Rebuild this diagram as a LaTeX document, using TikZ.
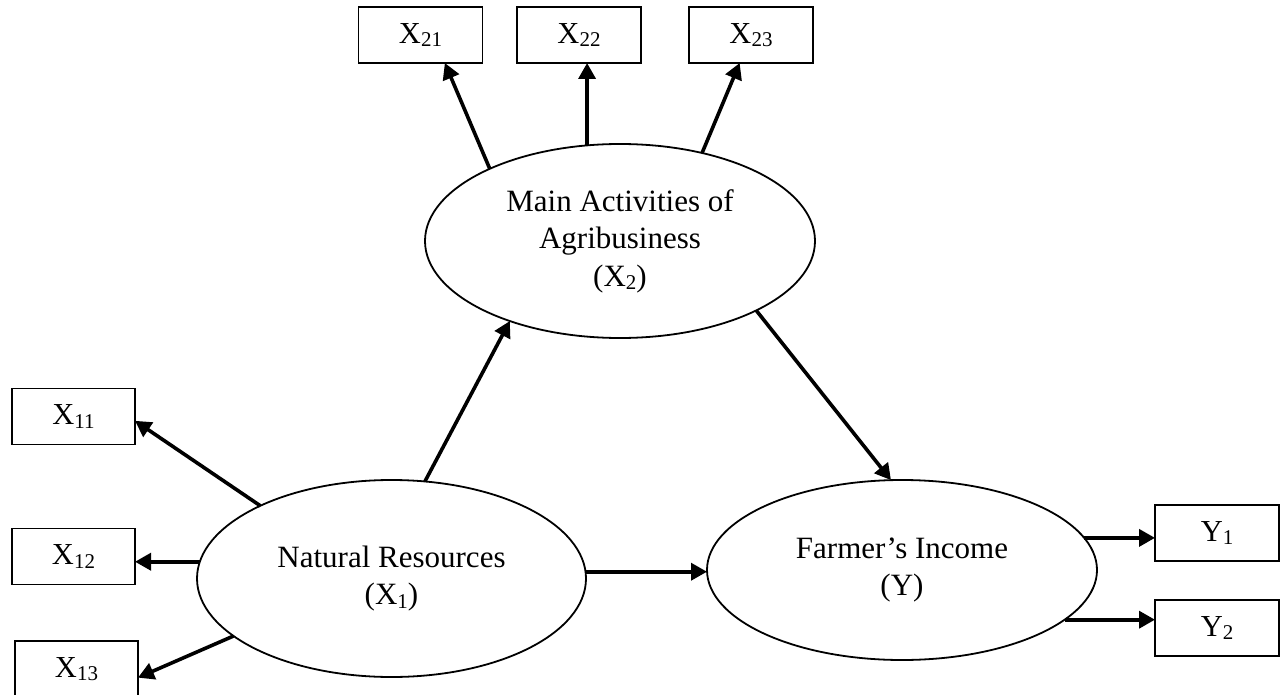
\documentclass[tikz,border=0pt]{standalone}
\usepackage{fontspec}
\setmainfont{Liberation Serif}
\usetikzlibrary{arrows.meta,shapes.geometric}
\newcommand\sbs[1]{\raisebox{-3.5pt}{\fontsize{21}{21}\selectfont #1}}
\tikzset{
  latent/.style={ellipse, draw, line width=1.8pt, minimum width=390pt, minimum height=194pt,
    inner sep=0pt, outer sep=0pt, align=center, font=\fontsize{31}{37.5}\selectfont},
  obsbox/.style={rectangle, draw, line width=1.8pt, minimum width=124pt, minimum height=56pt,
    inner sep=0pt, outer sep=0pt, font=\fontsize{30.5}{36}\selectfont},
  conn/.style={line width=3.6pt, -{Triangle[length=16pt,width=17pt]}},
}
\begin{document}
\begin{tikzpicture}[x=1pt,y=-1pt]
\useasboundingbox (0,0) rectangle (1281,695);
% latent variables
\node[latent] (x2) at (620,241) {Main Activities of\\Agribusiness\\(X\sbs{2})};
\node[latent, minimum width=389pt, minimum height=197pt] (x1) at (391.5,578.5) {Natural Resources\\(X\sbs{1})};
\node[latent, minimum height=180pt] (y) at (902,570) {Farmer’s Income\\(Y)};
% indicators
\node[obsbox] (x21) at (420.5,35) {X\sbs{21}};
\node[obsbox] (x22) at (579,35) {X\sbs{22}};
\node[obsbox] (x23) at (751,35) {X\sbs{23}};
\node[obsbox, minimum width=123pt] (x11) at (73.5,416.5) {X\sbs{11}};
\node[obsbox, minimum width=123pt] (x12) at (73.5,556.5) {X\sbs{12}};
\node[obsbox, minimum width=123pt] (x13) at (76.5,669) {X\sbs{13}};
\node[obsbox] (y1) at (1217,533) {Y\sbs{1}};
\node[obsbox] (y2) at (1217,628) {Y\sbs{2}};
% connectors
\draw[conn] (x2.151.9) -- (x21.-49);
\draw[conn] (x2.109.6) -- (x2.109.6 |- x22.south);
\draw[conn] (x2.47) -- (x23.248.6);
\draw[conn] (x1.71.2) -- (x2.216.1);
\draw[conn] (x2.333.4) -- (y.97);
\draw[conn] (x1.151.7) -- (x11.-4);
\draw[conn] (x1.175.7) -- (x1.175.7 -| x12.east);
\draw[conn] (x1.200.8) -- (x13.-8);
\draw[conn] (x1.2) -- (x1.2 -| y.west);
\draw[conn] (y.10.6) -- (y.10.6 -| y1.west);
\draw[conn] (y.-17.4) -- (y.-17.4 -| y2.west);
\end{tikzpicture}
\end{document}
